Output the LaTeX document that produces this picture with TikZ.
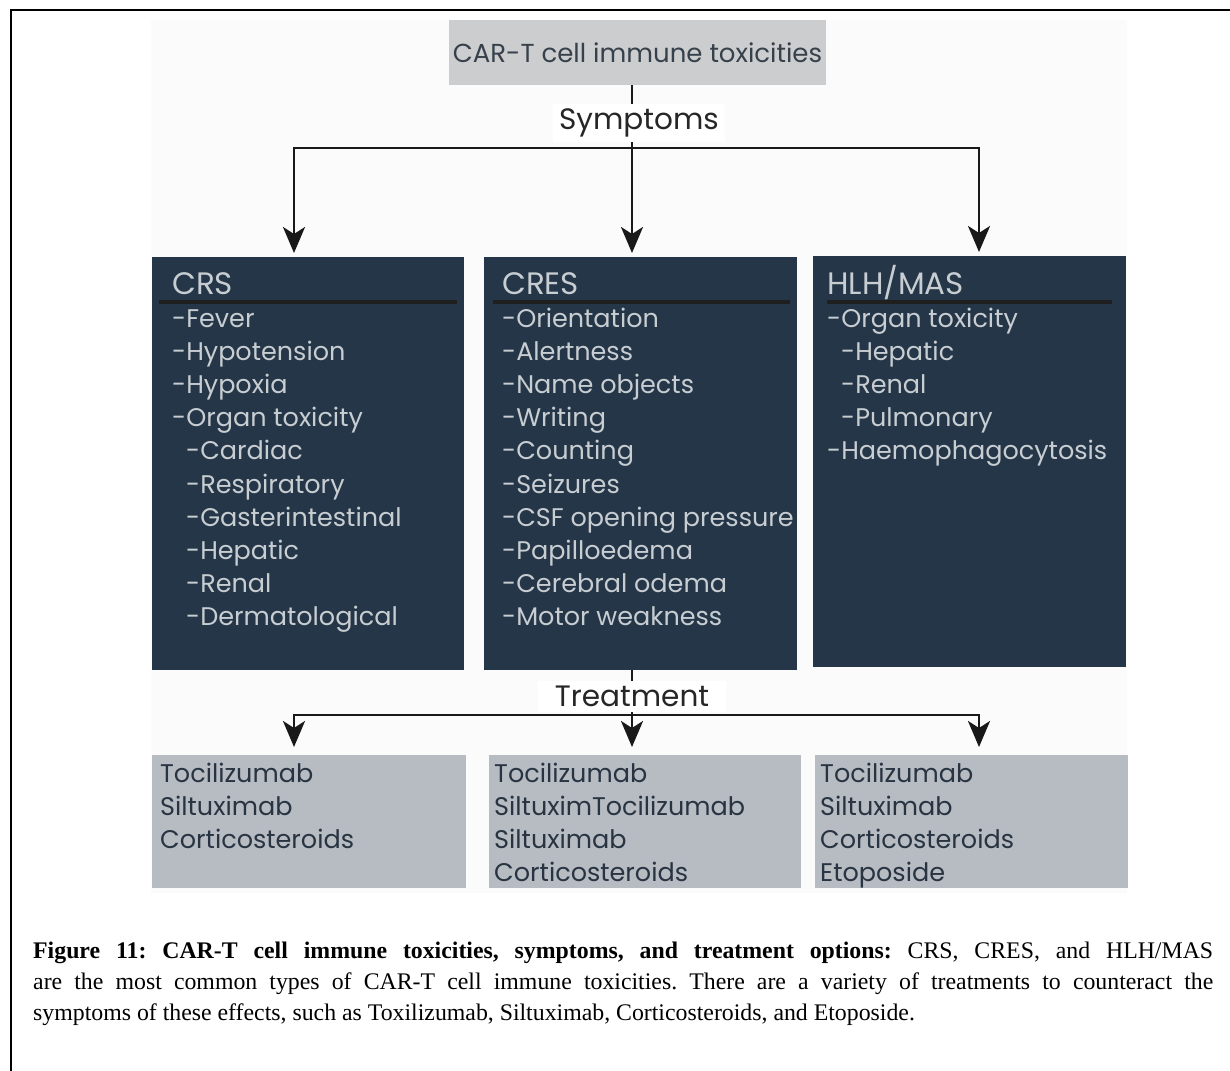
\documentclass[tikz,border=0pt]{standalone}
\usepackage{fontspec}
\setmainfont{Poppins}
\newfontfamily\capfont{Liberation Serif}
\usetikzlibrary{arrows.meta,positioning}

\definecolor{darkbox}{RGB}{36,54,71}
\definecolor{lighttext}{RGB}{200,205,210}
\definecolor{treatbox}{RGB}{183,187,194}
\definecolor{treattext}{RGB}{40,52,66}
\definecolor{titlebox}{RGB}{204,205,207}
\definecolor{titletext}{RGB}{55,65,75}
\definecolor{canvas}{RGB}{251,251,252}

\tikzset{
  symbox/.style={fill=darkbox, anchor=north west, inner sep=0pt},
  treatbx/.style={fill=treatbox, anchor=north west, inner sep=0pt},
  hdr/.style={anchor=base west, inner sep=0pt, text=lighttext, font=\fontsize{31}{33}\selectfont},
  item/.style={anchor=base west, inner sep=0pt, text=lighttext, font=\fontsize{25.5}{33}\selectfont},
  drug/.style={anchor=base west, inner sep=0pt, text=treattext, font=\fontsize{25.5}{33}\selectfont},
  lbl/.style={fill=white, inner sep=0pt, text=black!85, font=\fontsize{29.5}{32}\selectfont},
  rule/.style={line width=4pt, black!88},
  link/.style={line width=2.8pt, black!90},
  arrowln/.style={link, -{Stealth[length=26pt, width=22pt, inset=7pt]}}
}

\begin{document}
\begin{tikzpicture}[x=1pt, y=-1pt]
\useasboundingbox (0,0) rectangle (1230,1070);

% frame and canvas
\draw[line width=2.5pt] (11,1072) -- (11,10) -- (1232,10);
\fill[canvas] (151,20) rectangle (1127,893);

% top of the tree
\node[fill=titlebox, minimum width=377pt, minimum height=65pt, inner sep=0pt,
      text=titletext, font=\fontsize{26}{28}\selectfont] (title) at (637.5,52.5) {CAR-T cell immune toxicities};
\node[lbl, minimum width=172pt, minimum height=38pt] (symp) at (639,123) {Symptoms};
\coordinate (hubS) at (632,148);
\coordinate (colL) at (294,148);
\coordinate (colR) at (979,148);

% symptom boxes
\node[symbox, minimum width=312pt, minimum height=413pt] (crs) at (152,257) {};
\node[symbox, minimum width=313pt, minimum height=413pt] (cres) at (484,257) {};
\node[symbox, minimum width=313pt, minimum height=411pt] (hlh) at (813,256) {};

\node[hdr] (crshd) at (172,294) {CRS};
\node[hdr] (creshd) at (502,294) {CRES};
\node[hdr] (hlhhd) at (827,294) {HLH/MAS};
\draw[rule] (159,302) -- (457,302);
\draw[rule] (493,302) -- (790,302);
\draw[rule] (827,302) -- (1112,302);

\foreach \dx/\txt [count=\i from 0] in {0/-Fever, 0/-Hypotension, 0/-Hypoxia, 0/-Organ toxicity,
    14/-Cardiac, 14/-Respiratory, 14/-Gasterintestinal, 14/-Hepatic, 14/-Renal, 14/-Dermatological}
  \node[item] (crs-\i) at (172+\dx,327+33.2*\i) {\txt};
\foreach \txt [count=\i from 0] in {-Orientation, -Alertness, -Name objects, -Writing, -Counting,
    -Seizures, -CSF opening pressure, -Papilloedema, -Cerebral odema, -Motor weakness}
  \node[item] (cres-\i) at (502,327+33.2*\i) {\txt};
\foreach \dx/\txt [count=\i from 0] in {0/-Organ toxicity, 14/-Hepatic, 14/-Renal, 14/-Pulmonary, 0/-Haemophagocytosis}
  \node[item] (hlh-\i) at (827+\dx,327+33.2*\i) {\txt};

% treatment boxes
\node[lbl, minimum width=188pt, minimum height=31pt] (treat) at (632,696.5) {Treatment};
\coordinate (hubT) at (632,715);
\node[treatbx, minimum width=314pt, minimum height=133pt] (trL) at (152,755) {};
\node[treatbx, minimum width=312pt, minimum height=133pt] (trM) at (489,755) {};
\node[treatbx, minimum width=313pt, minimum height=133pt] (trR) at (815,755) {};

\foreach \txt [count=\i from 0] in {Tocilizumab, Siltuximab, Corticosteroids}
  \node[drug] (trL-\i) at (160,782+33*\i) {\txt};
\foreach \txt [count=\i from 0] in {Tocilizumab, SiltuximTocilizumab, Siltuximab, Corticosteroids}
  \node[drug] (trM-\i) at (494,782+33*\i) {\txt};
\foreach \txt [count=\i from 0] in {Tocilizumab, Siltuximab, Corticosteroids, Etoposide}
  \node[drug] (trR-\i) at (820,782+33*\i) {\txt};

% Edges
\draw[link] (title.south -| hubS) -- (symp.north -| hubS);
\draw[link] (symp.south -| hubS) -- (hubS);
\draw[arrowln, shorten >=4pt] (hubS) -| (colL |- crs.north);
\draw[arrowln, shorten >=4pt] (hubS) -- (hubS |- cres.north);
\draw[arrowln, shorten >=4pt] (hubS) -| (colR |- hlh.north);

\draw[link] (cres.south -| hubT) -- (treat.north -| hubT);
\draw[link] (treat.south -| hubT) -- (hubT);
\draw[arrowln, shorten >=8pt] (hubT) -| (colL |- trL.north);
\draw[arrowln, shorten >=8pt] (hubT) -- (hubT |- trM.north);
\draw[arrowln, shorten >=8pt] (hubT) -| (colR |- trR.north);

% caption
\node[anchor=north west, inner sep=0pt, text width=1180pt, align=justify,
      font=\capfont\frenchspacing\fontsize{23.8}{31}\selectfont] (caption) at (33,942)
  {\textbf{Figure 11: CAR-T cell immune toxicities, symptoms, and treatment options:} CRS, CRES, and HLH/MAS\linebreak
   are the most common types of CAR-T cell immune toxicities. There are a variety of treatments to counteract the\linebreak
   symptoms of these effects, such as Toxilizumab, Siltuximab, Corticosteroids, and Etoposide.};

\end{tikzpicture}
\end{document}
